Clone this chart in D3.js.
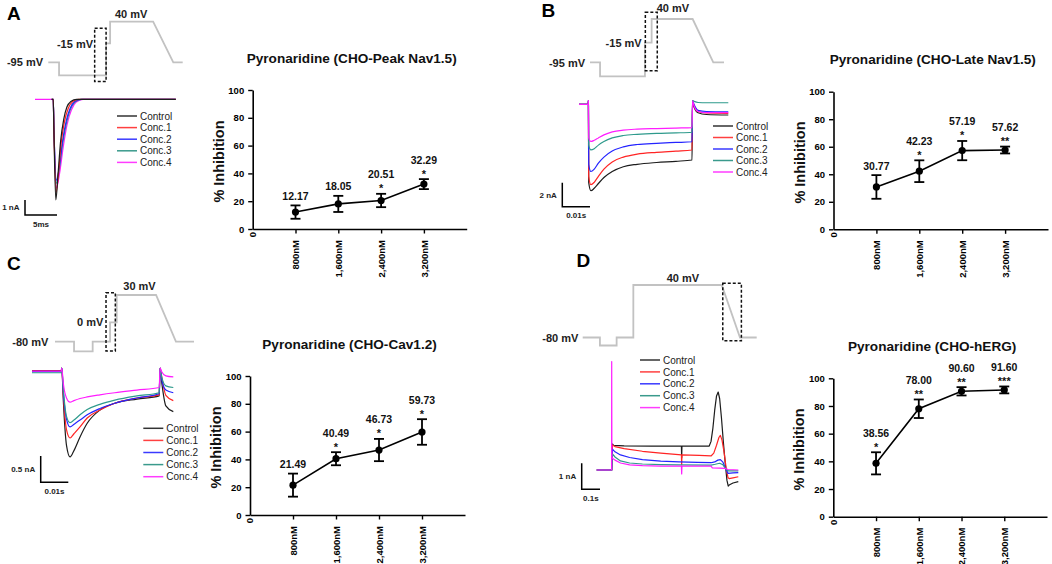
<!DOCTYPE html>
<html><head><meta charset="utf-8">
<script src="https://cdn.jsdelivr.net/npm/d3@7"></script>
<style>
body{margin:0;background:#fff}
svg{display:block}
</style>
</head><body>
<svg id="fig" width="1052" height="564"></svg>
<script>
// ---------------- DATA ----------------
const concentrations = ["800nM", "1,600nM", "2,400nM", "3,200nM"];
const yTicks = [0, 20, 40, 60, 80, 100];

const peakNavMean = [12.17, 18.05, 20.51, 32.29];
const peakNavSem  = [4.8, 5.8, 4.8, 3.6];
const peakNavSig  = ["", "", "*", "*"];

const lateNavMean = [30.77, 42.23, 57.19, 57.62];
const lateNavSem  = [8.6, 7.9, 7.0, 2.5];
const lateNavSig  = ["", "*", "*", "**"];

const cavMean = [21.49, 40.49, 46.73, 59.73];
const cavSem  = [8.3, 4.7, 8.0, 9.2];
const cavSig  = ["", "*", "*", "*"];

const hergMean = [38.56, 78.00, 90.60, 91.60];
const hergSem  = [8.0, 6.7, 3.0, 2.5];
const hergSig  = ["*", "**", "**", "***"];

const traceLabels = ["Control", "Conc.1", "Conc.2", "Conc.3", "Conc.4"];

// voltage protocols: [schematic time 0-100, mV]
const protoNavPeak = [[0,-95],[8,-95],[8,-120],[43,-120],[43,-15],[46,-15],[46,40],[78,40],[93,-95],[100,-95]];
const protoNavLate = [[0,-95],[7.5,-95],[7.5,-120],[41,-120],[41,-15],[46,-15],[46,40],[76.6,40],[92,-95],[100,-95]];
const protoCav     = [[0,-80],[13.7,-80],[13.7,-100],[27.1,-100],[27.1,-80],[39.6,-80],[39.6,0],[44.4,0],[44.4,30],[72.7,30],[87,-80],[100,-80]];
const protoHerg    = [[0,-80],[9.9,-80],[9.9,-100],[19.5,-100],[19.5,-80],[29.1,-80],[29.1,40],[79.9,40],[90.4,-80],[100,-80]];

// current traces: [time ms, current nA]  order: Control, Conc.1..4
const navPeakTraces = [
  [[2.6,0],[2.85,0],[2.95,-2.0],[3.25,-6.7],[3.6,-5.0],[4.0,-2.8],[4.5,-1.3],[5.0,-0.5],[5.6,-0.15],[6.5,0],[22,0]],
  [[2.6,0],[2.85,0],[2.95,-2.0],[3.3,-6.2],[3.7,-4.8],[4.1,-2.9],[4.6,-1.5],[5.2,-0.6],[5.9,-0.15],[6.8,0],[22,0]],
  [[2.6,0],[2.85,0],[2.95,-1.8],[3.35,-5.4],[3.8,-4.5],[4.3,-2.8],[4.9,-1.4],[5.5,-0.6],[6.2,-0.15],[7.2,0],[22,0]],
  [[2.6,0],[2.85,0],[2.95,-1.8],[3.35,-5.6],[3.8,-4.6],[4.3,-3.0],[4.9,-1.6],[5.5,-0.7],[6.2,-0.2],[7.2,0],[22,0]],
  [[0,0],[2.0,0],[2.85,0],[2.95,-1.8],[3.35,-5.9],[3.85,-4.9],[4.4,-3.2],[5.0,-1.7],[5.7,-0.7],[6.4,-0.2],[7.5,0],[22,0]]
];
const navLateTraces = [
  [[0,0],[3.3,0],[3.4,0.3],[3.5,-6.5],[4.3,-7.2],[5.5,-7.0],[7,-6.6],[9,-6.1],[12,-5.6],[16,-5.2],[21,-5.0],[28,-4.85],[35,-4.75],[40.8,-4.64],[41.0,0.3],[41.5,-0.2],[43,-0.7],[46,-0.85],[53.9,-0.89]],
  [[0,0],[3.3,0],[3.4,0.3],[3.5,-6.0],[4.3,-6.7],[5.5,-6.5],[7,-6.0],[9,-5.4],[12,-4.8],[16,-4.4],[21,-4.15],[28,-4.0],[35,-3.9],[40.8,-3.81],[41.0,0.3],[41.5,-0.1],[43,-0.6],[46,-0.72],[53.9,-0.75]],
  [[0,0],[3.3,0],[3.4,0.3],[3.5,-5.0],[4.3,-5.6],[5.5,-5.4],[7,-4.9],[9,-4.4],[12,-3.9],[16,-3.55],[21,-3.35],[28,-3.25],[35,-3.18],[40.8,-3.12],[41.0,0.3],[41.5,0],[43,-0.5],[46,-0.6],[53.9,-0.62]],
  [[0,0],[3.3,0],[3.4,0.3],[3.5,-3.4],[4.3,-3.8],[5.5,-3.7],[7,-3.4],[9,-3.1],[12,-2.8],[16,-2.6],[21,-2.5],[28,-2.42],[35,-2.38],[40.8,-2.33],[41.0,0.3],[41.5,0.25],[43,0.15],[46,0.13],[53.9,0.13]],
  [[0,0],[3.3,0],[3.4,0.3],[3.5,-2.8],[4.3,-3.1],[5.5,-3.0],[7,-2.8],[9,-2.55],[12,-2.3],[16,-2.15],[21,-2.07],[28,-2.02],[35,-1.98],[40.8,-1.95],[41.0,0.3],[41.5,-0.1],[43,-0.6],[46,-0.7],[53.9,-0.7]]
];
const cavTraces = [
  [[0,0.02],[10.6,0.02],[10.8,0.07],[11.3,-0.5],[12.5,-1.4],[13.8,-1.62],[15.2,-1.5],[17.4,-1.24],[20,-0.98],[24.6,-0.73],[30,-0.6],[38,-0.52],[46.1,-0.46],[46.4,0.07],[47,-0.2],[48.5,-0.65],[51.2,-0.76]],
  [[0,0.01],[10.6,0.01],[10.8,0.07],[11.3,-0.4],[12.5,-1.1],[13.8,-1.26],[15.2,-1.18],[17.4,-1.05],[20,-0.88],[24.6,-0.73],[30,-0.6],[38,-0.5],[46.1,-0.44],[46.4,0.07],[47,-0.1],[48.5,-0.45],[51.2,-0.55]],
  [[0,0],[10.6,0],[10.8,0.07],[11.3,-0.35],[12.5,-0.9],[13.8,-1.05],[15.2,-1.0],[17.4,-0.92],[20,-0.82],[24.6,-0.7],[30,-0.6],[38,-0.5],[46.1,-0.42],[46.4,0.07],[47,-0.15],[48.5,-0.35],[51.2,-0.4]],
  [[0,-0.02],[10.6,-0.02],[10.8,0.07],[11.3,-0.3],[12.5,-0.85],[13.8,-0.97],[15.2,-0.92],[17.4,-0.82],[20,-0.72],[24.6,-0.62],[30,-0.54],[38,-0.46],[46.1,-0.40],[46.4,0.07],[47,-0.1],[48.5,-0.27],[51.2,-0.3]],
  [[0,0.01],[10.6,0.01],[10.8,0.07],[11.3,-0.2],[12.5,-0.5],[13.8,-0.58],[15.2,-0.55],[17.4,-0.51],[20,-0.48],[24.6,-0.44],[30,-0.4],[38,-0.35],[46.1,-0.30],[46.4,0.07],[47,0],[48.5,-0.08],[51.2,-0.1]]
];
const hergTraces = [
  [[0,0],[82,0],[83,0.3],[86,1.0],[92,0.95],[150,0.93],[300,0.92],[463,0.92],[464.5,0.47],[466,0.92],[615,0.92],[625,1.1],[635,1.6],[645,2.3],[655,2.85],[664,3.0],[672,2.75],[682,2.0],[692,1.1],[702,0.3],[712,-0.4],[719,-0.62],[724,-0.58],[745,-0.5],[774,-0.45]],
  [[0,0],[82,0],[83,0.3],[86,0.96],[100,0.9],[150,0.82],[250,0.72],[350,0.65],[463,0.58],[464.5,0.2],[466,0.58],[560,0.56],[625,0.54],[640,0.65],[655,0.95],[668,1.25],[676,1.33],[685,1.15],[696,0.7],[708,0.05],[718,-0.3],[724,-0.33],[745,-0.3],[774,-0.26]],
  [[0,0],[82,0],[83,0.3],[86,0.8],[100,0.7],[130,0.58],[180,0.48],[250,0.4],[350,0.34],[450,0.31],[550,0.29],[625,0.28],[645,0.31],[662,0.38],[676,0.4],[690,0.3],[705,0.05],[718,-0.13],[745,-0.11],[774,-0.1]],
  [[0,0],[82,0],[83,0.3],[86,0.62],[100,0.5],[130,0.35],[180,0.27],[250,0.23],[350,0.21],[450,0.2],[625,0.19],[648,0.22],[672,0.26],[690,0.2],[705,0.05],[718,-0.03],[774,-0.03]],
  [[0,0],[81.5,0],[82,4.17],[83,0.5],[86,0.45],[100,0.38],[130,0.27],[180,0.2],[250,0.17],[350,0.15],[463,0.15],[464.5,-0.15],[466,0.15],[625,0.15],[632,0.08],[672,0.07],[700,0.06],[718,0.02],[774,0]]
];

// ---------------- STYLE / LAYOUT ----------------
const FONT = '"Liberation Sans", Arial, Helvetica, sans-serif';
const traceColors = ["#1c1c1c", "#ff2424", "#2424ff", "#2e9a8c", "#ff1cff"];
const legendColors = ["#333333", "#ff4040", "#3a3aff", "#3a9a8c", "#ff3cff"];
const svg = d3.select("#fig");

function styleAxis(sel) {
  sel.select(".domain").attr("stroke", "#000").attr("stroke-width", 1.6);
  sel.selectAll(".tick line").attr("stroke", "#000").attr("stroke-width", 1.4);
  sel.selectAll(".tick text").attr("fill", "#000").attr("font-weight", "bold")
     .attr("font-size", 9.5).attr("font-family", FONT);
}

function drawChart(cfg) {
  const g = svg.append("g");
  const n = concentrations.length;
  const x = d3.scaleLinear().domain([0, n + 1]).range([cfg.x0, cfg.x1]);
  const y = d3.scaleLinear().domain([0, 100]).range([cfg.yB, cfg.yT]);

  const xa = g.append("g").attr("transform", `translate(0,${cfg.yB})`)
    .call(d3.axisBottom(x).tickValues(concentrations.map((c, i) => i + 1))
      .tickFormat(d => concentrations[d - 1]).tickSize(4.5).tickSizeOuter(0));
  styleAxis(xa);
  xa.selectAll(".tick text").attr("transform", "rotate(-90)").attr("text-anchor", "end")
    .attr("x", -11).attr("y", 0).attr("dy", "0.35em");
  xa.append("text").text("0").attr("transform", `translate(${x(0)},0) rotate(-90)`)
    .attr("text-anchor", "end").attr("x", -3).attr("dy", "0.35em")
    .attr("fill", "#000").attr("font-weight", "bold").attr("font-size", 9.5).attr("font-family", FONT);

  const ya = g.append("g").attr("transform", `translate(${cfg.x0},0)`)
    .call(d3.axisLeft(y).tickValues(yTicks).tickSize(4.5).tickPadding(4).tickSizeOuter(0));
  styleAxis(ya);

  g.append("text").text(cfg.title)
    .attr("x", (cfg.x0 + cfg.x1) / 2 - 8).attr("y", cfg.yT - 27.5)
    .attr("text-anchor", "middle").attr("font-family", FONT).attr("font-weight", "bold")
    .attr("font-size", 13.6).attr("fill", "#111");

  g.append("text").text("% Inhibition")
    .attr("transform", `translate(${cfg.x0 - 29},${(cfg.yB + cfg.yT) / 2 + 2}) rotate(-90)`)
    .attr("text-anchor", "middle").attr("font-family", FONT).attr("font-weight", "bold")
    .attr("font-size", 14.5).attr("fill", "#111");

  const line = d3.line().x((d, i) => x(i + 1)).y(d => y(d));
  g.append("path").datum(cfg.mean).attr("d", line).attr("fill", "none")
    .attr("stroke", "#000").attr("stroke-width", 1.6);

  cfg.mean.forEach((m, i) => {
    const cx = x(i + 1), s = cfg.sem[i];
    const top = y(m + s), bot = y(m - s);
    g.append("line").attr("x1", cx).attr("x2", cx).attr("y1", top).attr("y2", bot)
      .attr("stroke", "#000").attr("stroke-width", 1.8);
    [top, bot].forEach(yy => g.append("line").attr("x1", cx - 5).attr("x2", cx + 5)
      .attr("y1", yy).attr("y2", yy).attr("stroke", "#000").attr("stroke-width", 1.8));
    g.append("circle").attr("cx", cx).attr("cy", y(m)).attr("r", 3.6).attr("fill", "#000");
    const sig = cfg.sig[i];
    if (sig) {
      g.append("text").text(sig).attr("x", cx).attr("y", top - 1.6)
        .attr("text-anchor", "middle").attr("font-family", FONT).attr("font-weight", "bold")
        .attr("font-size", 11).attr("fill", "#111");
    }
    g.append("text").text(m.toFixed(2)).attr("x", cx).attr("y", top - (sig ? 15.5 : 5.5))
      .attr("text-anchor", "middle").attr("font-family", FONT).attr("font-weight", "bold")
      .attr("font-size", 10.5).attr("fill", "#111");
  });
}

function drawTracePanel(cfg) {
  const g = svg.append("g");
  // panel letter
  g.append("text").text(cfg.letter).attr("x", cfg.letterPos[0]).attr("y", cfg.letterPos[1])
    .attr("font-family", FONT).attr("font-weight", "bold").attr("font-size", 19).attr("fill", "#000");

  // protocol
  const px = d3.scaleLinear().domain([0, 100]).range(cfg.protoX);
  const py = d3.scaleLinear().domain(cfg.vDomain).range(cfg.vRange);
  g.append("path").datum(cfg.proto)
    .attr("d", d3.line().x(d => px(d[0])).y(d => py(d[1])))
    .attr("fill", "none").attr("stroke", "#c2c2c2").attr("stroke-width", 1.8);
  const b = cfg.box;
  g.append("rect").attr("x", px(b[0])).attr("y", py(b[3]))
    .attr("width", px(b[1]) - px(b[0])).attr("height", py(b[2]) - py(b[3]))
    .attr("fill", "none").attr("stroke", "#111").attr("stroke-width", 1.5).attr("stroke-dasharray", "3,2");
  cfg.protoLabels.forEach(l => {
    g.append("text").text(l.text).attr("x", l.x).attr("y", l.y).attr("text-anchor", l.anchor)
      .attr("font-family", FONT).attr("font-weight", "bold").attr("font-size", 11).attr("fill", "#222");
  });

  // traces
  const tx = d3.scaleLinear().domain(cfg.tDomain).range(cfg.tRange);
  const ty = d3.scaleLinear().domain([0, -1]).range(cfg.iRange);
  const line = d3.line().x(d => tx(d[0])).y(d => ty(d[1])).curve(cfg.curve);
  cfg.order.forEach(i => {
    g.append("path").datum(cfg.traces[i]).attr("d", line).attr("fill", "none")
      .attr("stroke", traceColors[i]).attr("stroke-width", 1.2).attr("stroke-linejoin", "round");
  });

  // scale bar
  const sb = cfg.scaleBar;
  const vLen = ty(-sb.amp) - ty(0);
  const hLen = tx(sb.dur) - tx(0);
  g.append("path").attr("d", `M${sb.x},${sb.y - vLen}V${sb.y}H${sb.x + hLen}`)
    .attr("fill", "none").attr("stroke", "#000").attr("stroke-width", 1.5);
  g.append("text").text(sb.ampLabel).attr("x", sb.x - 5.5).attr("y", sb.y - vLen / 2 + 2.9)
    .attr("text-anchor", "end").attr("font-family", FONT).attr("font-weight", "bold")
    .attr("font-size", 8).attr("fill", "#222");
  g.append("text").text(sb.durLabel).attr("x", sb.x + hLen / 2).attr("y", sb.y + 11.5)
    .attr("text-anchor", "middle").attr("font-family", FONT).attr("font-weight", "bold")
    .attr("font-size", 8).attr("fill", "#222");

  // legend
  const lg = cfg.legend;
  traceLabels.forEach((t, i) => {
    const yy = lg.y + i * lg.step;
    g.append("line").attr("x1", lg.x).attr("x2", lg.x + 20).attr("y1", yy).attr("y2", yy)
      .attr("stroke", legendColors[i]).attr("stroke-width", 1.5);
    g.append("text").text(t).attr("x", lg.x + 23).attr("y", yy + 3.6)
      .attr("font-family", FONT).attr("font-size", 10).attr("fill", "#222");
  });
}

// ---------------- PANELS ----------------
drawTracePanel({
  letter: "A", letterPos: [7, 19.5],
  proto: protoNavPeak, protoX: [48.3, 182.7],
  vDomain: [-120, -95, -15, 40], vRange: [75.3, 62.3, 43.3, 21.7],
  box: [34.5, 43, -132, 23.2],
  protoLabels: [
    {text: "-95 mV", x: 43, y: 66, anchor: "end"},
    {text: "-15 mV", x: 93, y: 48, anchor: "end"},
    {text: "40 mV", x: 115, y: 18, anchor: "start"}
  ],
  traces: navPeakTraces, order: [4, 3, 2, 1, 0], curve: d3.curveMonotoneX,
  tDomain: [0, 22], tRange: [35, 175.8], iRange: [99.3, 114.3],
  scaleBar: {x: 25, y: 215, amp: 1, dur: 5, ampLabel: "1 nA", durLabel: "5ms"},
  legend: {x: 117, y: 116, step: 11.6}
});
drawTracePanel({
  letter: "B", letterPos: [541.5, 17],
  proto: protoNavLate, protoX: [590, 724],
  vDomain: [-120, -95, -15, 40], vRange: [76.3, 62.3, 42.7, 19],
  box: [41.3, 50.2, -110, 55.5],
  protoLabels: [
    {text: "-95 mV", x: 585, y: 66.5, anchor: "end"},
    {text: "-15 mV", x: 641.7, y: 47.3, anchor: "end"},
    {text: "40 mV", x: 656.7, y: 11.7, anchor: "start"}
  ],
  traces: navLateTraces, order: [0, 1, 2, 3, 4], curve: d3.curveMonotoneX,
  tDomain: [0, 53.9], tRange: [579, 728.3], iRange: [104.3, 116.3],
  scaleBar: {x: 562.3, y: 206.7, amp: 2, dur: 10, ampLabel: "2 nA", durLabel: "0.01s"},
  legend: {x: 713, y: 126, step: 11.5}
});
drawTracePanel({
  letter: "C", letterPos: [7, 270],
  proto: protoCav, protoX: [55, 194],
  vDomain: [-100, -80, 0, 30], vRange: [351.3, 341.7, 322.3, 295],
  box: [36.7, 43.4, -99.4, 32.5],
  protoLabels: [
    {text: "-80 mV", x: 48.3, y: 346, anchor: "end"},
    {text: "0 mV", x: 103.3, y: 326, anchor: "end"},
    {text: "30 mV", x: 123.3, y: 290, anchor: "start"}
  ],
  traces: cavTraces, order: [0, 1, 2, 3, 4], curve: d3.curveMonotoneX,
  tDomain: [0, 51.2], tRange: [32, 173.3], iRange: [371.7, 424.3],
  scaleBar: {x: 40.7, y: 482.3, amp: 0.5, dur: 10, ampLabel: "0.5 nA", durLabel: "0.01s"},
  legend: {x: 143.3, y: 428.3, step: 12.1}
});
drawTracePanel({
  letter: "D", letterPos: [576.5, 267],
  proto: protoHerg, protoX: [582.7, 756.7],
  vDomain: [-100, -80, 40], vRange: [345.5, 337.5, 285],
  box: [80.5, 91.2, -88, 43.9],
  protoLabels: [
    {text: "-80 mV", x: 578.3, y: 341.7, anchor: "end"},
    {text: "40 mV", x: 666.7, y: 282, anchor: "start"}
  ],
  traces: hergTraces, order: [0, 1, 2, 3, 4], curve: d3.curveLinear,
  tDomain: [0, 774], tRange: [596.7, 738.3], iRange: [470, 496],
  scaleBar: {x: 581.7, y: 489.3, amp: 1, dur: 100, ampLabel: "1 nA", durLabel: "0.1s"},
  legend: {x: 640, y: 360, step: 11.9}
});

drawChart({x0: 252.7, x1: 466.7, yB: 229, yT: 90, title: "Pyronaridine (CHO-Peak Nav1.5)",
  mean: peakNavMean, sem: peakNavSem, sig: peakNavSig});
drawChart({x0: 833.5, x1: 1048, yB: 229.3, yT: 91.7, title: "Pyronaridine (CHO-Late Nav1.5)",
  mean: lateNavMean, sem: lateNavSem, sig: lateNavSig});
drawChart({x0: 250, x1: 465, yB: 515, yT: 376, title: "Pyronaridine (CHO-Cav1.2)",
  mean: cavMean, sem: cavSem, sig: cavSig});
drawChart({x0: 833.3, x1: 1047, yB: 516.7, yT: 378.3, title: "Pyronaridine (CHO-hERG)",
  mean: hergMean, sem: hergSem, sig: hergSig});
</script>
</body></html>
